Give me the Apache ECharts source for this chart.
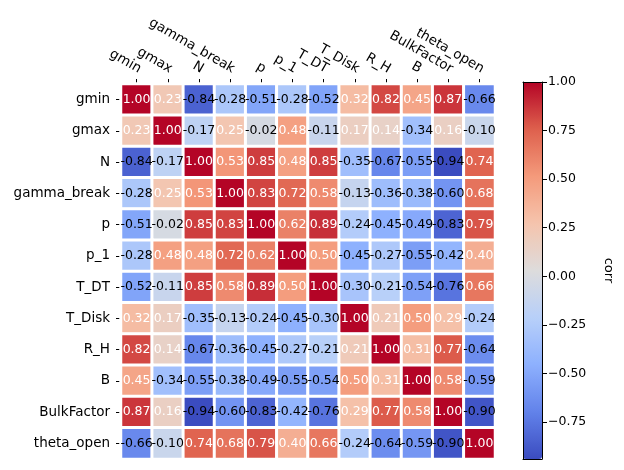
<!DOCTYPE html>
<html><head><meta charset="utf-8">
<script src="https://cdn.jsdelivr.net/npm/echarts@6/dist/echarts.min.js"></script>
<style>html,body{margin:0;padding:0;background:#fff}#c{width:624px;height:470px}</style>
</head><body><div id="c"></div>
<script>
const categories = ['gmin','gmax','N','gamma_break','p','p_1','T_DT','T_Disk','R_H','B','BulkFactor','theta_open'];
const row_gmin       = [ 1.00,  0.23, -0.84, -0.28, -0.51, -0.28, -0.52,  0.32,  0.82,  0.45,  0.87, -0.66];
const row_gmax       = [ 0.23,  1.00, -0.17,  0.25, -0.02,  0.48, -0.11,  0.17,  0.14, -0.34,  0.16, -0.10];
const row_N          = [-0.84, -0.17,  1.00,  0.53,  0.85,  0.48,  0.85, -0.35, -0.67, -0.55, -0.94,  0.74];
const row_gamma_break= [-0.28,  0.25,  0.53,  1.00,  0.83,  0.72,  0.58, -0.13, -0.36, -0.38, -0.60,  0.68];
const row_p          = [-0.51, -0.02,  0.85,  0.83,  1.00,  0.62,  0.89, -0.24, -0.45, -0.49, -0.83,  0.79];
const row_p_1        = [-0.28,  0.48,  0.48,  0.72,  0.62,  1.00,  0.50, -0.45, -0.27, -0.55, -0.42,  0.40];
const row_T_DT       = [-0.52, -0.11,  0.85,  0.58,  0.89,  0.50,  1.00, -0.30, -0.21, -0.54, -0.76,  0.66];
const row_T_Disk     = [ 0.32,  0.17, -0.35, -0.13, -0.24, -0.45, -0.30,  1.00,  0.21,  0.50,  0.29, -0.24];
const row_R_H        = [ 0.82,  0.14, -0.67, -0.36, -0.45, -0.27, -0.21,  0.21,  1.00,  0.31,  0.77, -0.64];
const row_B          = [ 0.45, -0.34, -0.55, -0.38, -0.49, -0.55, -0.54,  0.50,  0.31,  1.00,  0.58, -0.59];
const row_BulkFactor = [ 0.87,  0.16, -0.94, -0.60, -0.83, -0.42, -0.76,  0.29,  0.77,  0.58,  1.00, -0.90];
const row_theta_open = [-0.66, -0.10,  0.74,  0.68,  0.79,  0.40,  0.66, -0.24, -0.64, -0.59, -0.90,  1.00];
const colorbarTicks = [-0.75, -0.5, -0.25, 0, 0.25, 0.5, 0.75, 1.0];
const colorMin = -0.94, colorMax = 1.0;
const colorbarName = 'corr';

const matrix = [row_gmin,row_gmax,row_N,row_gamma_break,row_p,row_p_1,row_T_DT,row_T_Disk,row_R_H,row_B,row_BulkFactor,row_theta_open];
const coolwarm = ['#3b4cc0','#6282ea','#8db0fe','#b8d0f9','#dddcdc','#f5c4ad','#f49a7b','#de604d','#b40426'];
const data = [];
matrix.forEach((row, i) => row.forEach((v, j) => {
  data.push({value: [j, i, v], label: {color: v > 0 ? '#ffffff' : '#000000'}});
}));
const FONT = 'DejaVu Sans';
const chart = echarts.init(document.getElementById('c'), null, {renderer: 'canvas'});
const lineAxis = (extra) => Object.assign({
  gridIndex: 1, show: true, z: 10,
  axisLine: {show: true, onZero: false, lineStyle: {color: '#000', width: 1}},
  axisTick: {show: false}, axisLabel: {show: false}, splitLine: {show: false}
}, extra);
chart.setOption({
  animation: false,
  backgroundColor: '#fff',
  grid: [
    {left: 121, top: 84, width: 374, height: 375},
    {left: 523, top: 82, width: 19, height: 377}
  ],
  xAxis: [
    {type: 'category', data: categories, position: 'top', gridIndex: 0,
     axisLine: {show: false},
     axisTick: {show: true, alignWithLabel: true, length: 5, lineStyle: {color: '#000'}},
     axisLabel: {rotate: 30, interval: 0, margin: 8, verticalAlign: 'bottom', color: '#000', fontFamily: FONT, fontSize: 13.5},
     splitLine: {show: false}},
    lineAxis({type: 'value', position: 'bottom', min: 0, max: 1}),
    lineAxis({type: 'value', position: 'top', min: 0, max: 1})
  ],
  yAxis: [
    {type: 'category', data: categories, inverse: true, gridIndex: 0,
     axisLine: {show: false},
     axisTick: {show: true, alignWithLabel: true, length: 5, lineStyle: {color: '#000'}},
     axisLabel: {interval: 0, margin: 11, color: '#000', fontFamily: FONT, fontSize: 13.5},
     splitLine: {show: false}},
    lineAxis({type: 'value', position: 'right', min: colorMin, max: colorMax,
      axisTick: {show: true, length: 5, lineStyle: {color: '#000'}, customValues: colorbarTicks},
      axisLabel: {show: true, margin: 6, color: '#000', fontFamily: FONT, fontSize: 12.5,
        customValues: colorbarTicks,
        formatter: v => (v < 0 ? '\u2212' : '') + Math.abs(v).toFixed(2)},
      name: colorbarName, nameLocation: 'middle', nameRotate: -90, nameGap: 60,
      nameTextStyle: {color: '#000', fontFamily: FONT, fontSize: 13}}),
    lineAxis({type: 'value', position: 'left', min: colorMin, max: colorMax})
  ],
  visualMap: {
    type: 'continuous', min: colorMin, max: colorMax, calculable: false,
    left: 523, top: 82, itemWidth: 19, itemHeight: 377, padding: 0,
    text: null, showLabel: false, hoverLink: false, seriesIndex: 0,
    inRange: {color: coolwarm}
  },
  series: [{
    type: 'heatmap', xAxisIndex: 0, yAxisIndex: 0, data: data,
    itemStyle: {borderColor: '#fff', borderWidth: 3},
    label: {show: true, fontFamily: FONT, fontSize: 12.5,
      formatter: p => p.value[2].toFixed(2)},
    emphasis: {disabled: true}
  }]
});
</script></body></html>
